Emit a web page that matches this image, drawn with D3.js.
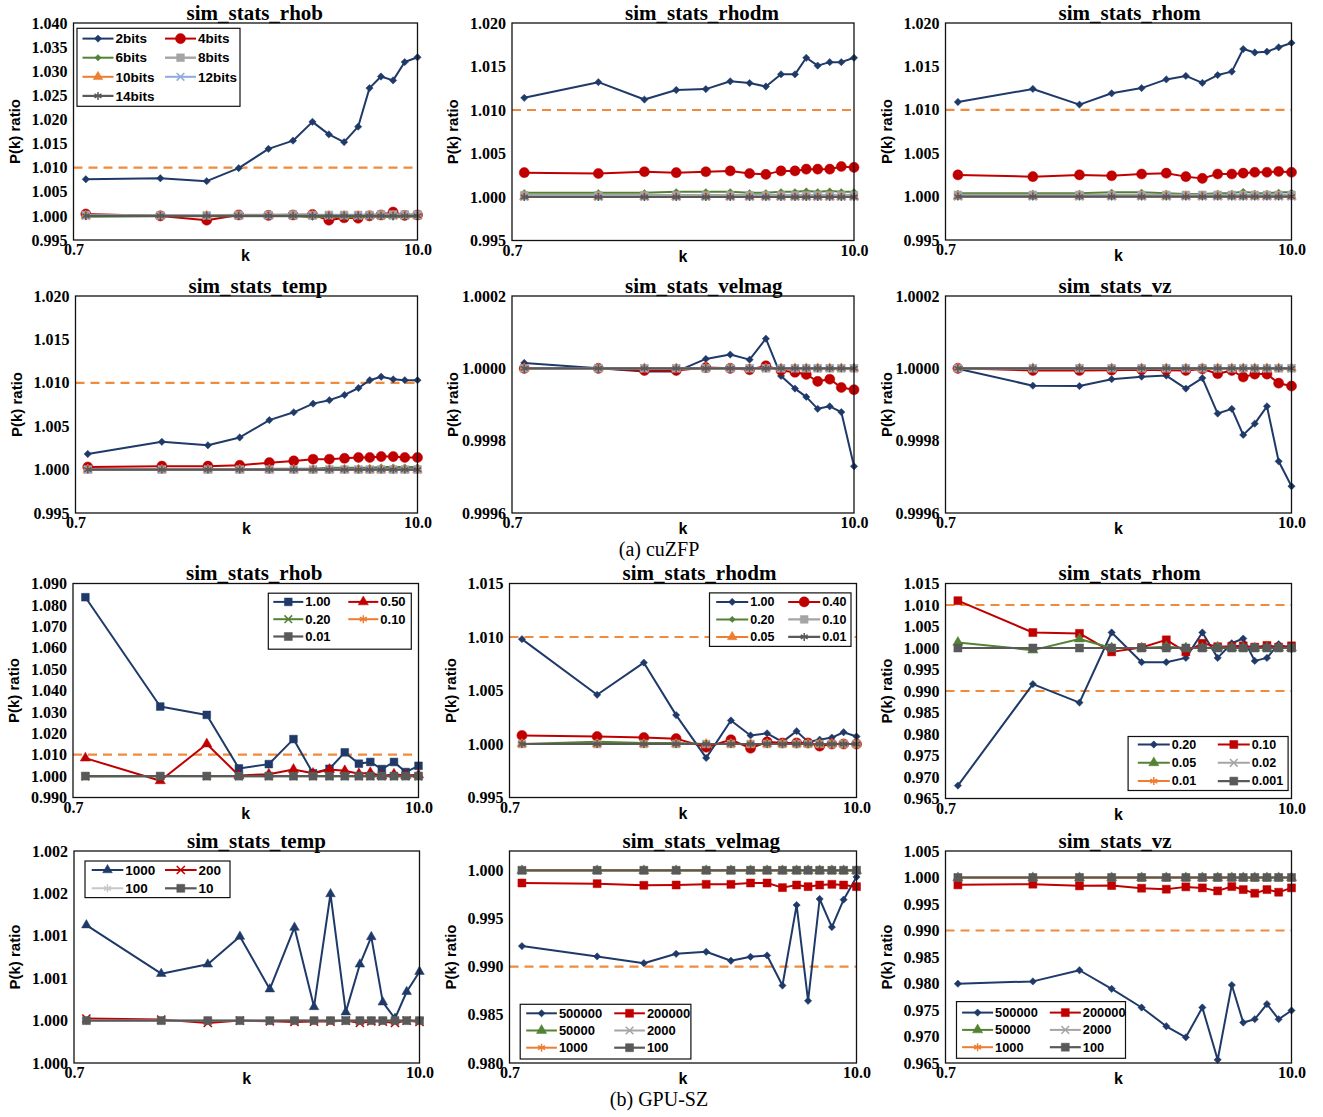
<!DOCTYPE html>
<html><head><meta charset="utf-8">
<script src="https://cdn.jsdelivr.net/npm/d3@7"></script>
<style>body{margin:0;background:#fff} svg{display:block}</style>
</head><body><svg id="c" width="1323" height="1117"></svg>
<script>
// ---------------- DATA ----------------
const kValues = [0.77,1.37,1.96,2.51,3.16,3.82,4.44,5.04,5.67,6.32,6.90,7.54,8.28,9.06,10.0];
const xTickValues = [0.7, 10.0];
const flat = [1,1,1,1,1,1,1,1,1,1,1,1,1,1,1];

const cuzfpNames = ["2bits","4bits","6bits","8bits","10bits","12bits","14bits"];

const zfpRhob2 = [1.0076,1.0078,1.0072,1.0099,1.0139,1.0156,1.0195,1.0169,1.0153,1.0185,1.0265,1.0289,1.0281,1.0319,1.0329];
const zfpRhob4 = [1.0004,1.0000,0.9991,1.0002,1.0001,1.0002,1.0003,0.9991,0.9996,0.9995,1.0000,1.0002,1.0008,1.0001,1.0002];
const zfpRhob6 = [0.9998,0.9999,0.9999,0.9999,0.9999,0.9999,0.9997,0.9998,0.9997,0.9997,0.9998,0.9998,0.9997,0.9998,0.9998];
const zfpRhob8 = [1.0002,1.0001,1.0001,1.0002,1.0002,1.0003,1.0002,1.0002,1.0002,1.0002,1.0002,1.0003,1.0003,1.0003,1.0003];

const zfpRhodm2 = [1.0114,1.0132,1.0112,1.0123,1.0124,1.0133,1.0131,1.0127,1.0141,1.0141,1.0160,1.0151,1.0155,1.0155,1.0160];
const zfpRhodm4 = [1.0028,1.0027,1.0029,1.0028,1.0029,1.0030,1.0027,1.0026,1.0030,1.0030,1.0032,1.0032,1.0032,1.0035,1.0034];
const zfpRhodm6 = [1.0005,1.0005,1.0005,1.0006,1.0006,1.0006,1.0005,1.0005,1.0006,1.0006,1.0007,1.0006,1.0007,1.0006,1.0006];
const zfpRhodm8 = [1.0002,1.0002,1.0002,1.0002,1.0002,1.0002,1.0002,1.0002,1.0002,1.0002,1.0002,1.0002,1.0002,1.0002,1.0002];

const zfpRhom2 = [1.0109,1.0124,1.0106,1.0119,1.0125,1.0135,1.0139,1.0131,1.0140,1.0144,1.0170,1.0166,1.0167,1.0172,1.0177];
const zfpRhom4 = [1.0025,1.0023,1.0025,1.0024,1.0026,1.0027,1.0023,1.0021,1.0026,1.0026,1.0027,1.0028,1.0028,1.0029,1.0028];
const zfpRhom6 = [1.0004,1.0004,1.0004,1.0005,1.0005,1.0004,1.0003,1.0003,1.0004,1.0004,1.0006,1.0004,1.0004,1.0005,1.0005];
const zfpRhom8 = [1.0002,1.0002,1.0002,1.0002,1.0002,1.0002,1.0002,1.0002,1.0002,1.0002,1.0002,1.0002,1.0002,1.0002,1.0002];

const zfpTemp2 = [1.0018,1.0032,1.0028,1.0037,1.0057,1.0066,1.0076,1.0080,1.0086,1.0094,1.0103,1.0107,1.0104,1.0103,1.0103];
const zfpTemp4 = [1.0003,1.0004,1.0004,1.0005,1.0008,1.0010,1.0012,1.0012,1.0013,1.0014,1.0014,1.0015,1.0015,1.0014,1.0014];
const zfpTemp6 = [1.0000,1.0000,1.0000,1.0000,1.0001,1.0001,1.0001,1.0002,1.0002,1.0002,1.0002,1.0003,1.0003,1.0003,1.0003];

const zfpVelmag2 = [1.000015,1.000000,0.999991,0.999991,1.000026,1.000038,1.000024,1.000082,0.999979,0.999944,0.999921,0.999888,0.999895,0.999879,0.999729];
const zfpVelmag4 = [1.000000,1.000000,0.999994,0.999994,1.000002,1.000000,0.999996,1.000007,0.999994,0.999989,0.999983,0.999964,0.999970,0.999947,0.999941];

const zfpVz2 = [0.999999,0.999952,0.999951,0.999970,0.999977,0.999980,0.999944,0.999973,0.999875,0.999888,0.999816,0.999847,0.999895,0.999743,0.999674];
const zfpVz4 = [1.000000,0.999994,0.999994,0.999995,0.999996,0.999995,0.999994,0.999998,0.999985,0.999994,0.999976,0.999984,0.999984,0.999959,0.999951];

const szRhobNames = ["1.00","0.50","0.20","0.10","0.01"];
const szRhob100 = [1.0836,1.0325,1.0286,1.0036,1.0056,1.0173,1.0013,1.0034,1.0111,1.0058,1.0066,1.0033,1.0066,1.0019,1.0048];
const szRhob050 = [1.0084,0.9978,1.0150,1.0003,1.0009,1.0031,1.0013,1.0031,1.0025,1.0011,1.0016,1.0000,1.0009,1.0003,1.0006];
const szRhob020 = [0.9998,0.9999,0.9999,0.9999,0.9999,0.9999,0.9999,0.9999,0.9999,0.9999,0.9999,0.9999,0.9999,0.9999,0.9999];

const szRhodmNames = ["1.00","0.40","0.20","0.10","0.05","0.01"];
const szRhodm100 = [1.0098,1.0046,1.0076,1.0027,0.9987,1.0022,1.0008,1.0010,1.0002,1.0012,1.0002,1.0004,1.0006,1.0011,1.0007];
const szRhodm040 = [1.0008,1.0007,1.0006,1.0005,0.9997,1.0004,0.9996,1.0002,1.0001,1.0001,1.0001,0.9998,1.0000,1.0000,1.0000];
const szRhodm020 = [1.0000,1.0002,1.0001,1.0001,1.0000,1.0000,1.0000,1.0000,1.0000,1.0000,1.0000,1.0000,1.0000,1.0000,1.0000];

const szRhomNames = ["0.20","0.10","0.05","0.02","0.01","0.001"];
const szRhom020 = [0.9680,0.9916,0.9873,1.0036,0.9967,0.9967,0.9977,1.0036,0.9977,1.0011,1.0022,0.9970,0.9977,1.0009,0.9997];
const szRhom010 = [1.0110,1.0036,1.0034,0.9991,1.0001,1.0019,0.9991,1.0011,1.0003,1.0004,1.0005,1.0002,1.0006,1.0002,1.0005];
const szRhom005 = [1.0013,0.9995,1.0021,1.0000,1.0000,1.0003,1.0000,1.0000,1.0002,1.0000,1.0000,1.0000,1.0000,1.0000,1.0000];

const szTempNames = ["1000","200","100","10"];
const szTemp1000 = [1.001126,1.000553,1.000664,1.000991,1.000371,1.001098,1.000162,1.001493,1.000100,1.000664,1.000987,1.000217,1.000024,1.000340,1.000577];
const szTemp200 = [1.000024,1.000012,0.999972,1.000000,0.999992,0.999984,0.999988,0.999988,1.000000,0.999972,0.999992,0.999988,0.999972,1.000000,0.999984];
const szTemp100 = [1.000000,1.000000,1.000000,1.000000,1.000000,1.000010,1.000000,1.000000,1.000000,1.000000,1.000000,1.000000,1.000000,1.000000,1.000000];

const szVelNames = ["500000","200000","50000","2000","1000","100"];
const szVelmag500k = [0.99213,0.99106,0.99036,0.99133,0.99154,0.99061,0.99102,0.99116,0.98804,0.99639,0.98645,0.99702,0.99411,0.99695,0.99930];
const szVelmag200k = [0.99868,0.99861,0.99844,0.99847,0.99854,0.99854,0.99868,0.99868,0.99820,0.99847,0.99830,0.99847,0.99854,0.99847,0.99830];
const szNear50k = [0.99995,0.99995,0.99995,0.99995,0.99995,0.99995,0.99995,0.99995,0.99995,0.99995,0.99995,0.99995,0.99995,0.99995,0.99995];
const szVz500k = [0.97996,0.98040,0.98250,0.97900,0.97547,0.97193,0.96985,0.97547,0.96561,0.97971,0.97263,0.97326,0.97611,0.97326,0.97491];
const szVz200k = [0.99861,0.99874,0.99842,0.99848,0.99798,0.99779,0.99823,0.99804,0.99747,0.99829,0.99772,0.99703,0.99772,0.99722,0.99804];

const ticks0995to1040 = [0.995,1.000,1.005,1.010,1.015,1.020,1.025,1.030,1.035,1.040];
const ticks0995to1020 = [0.995,1.000,1.005,1.010,1.015,1.020];
const ticksSmall = [0.9996,0.9998,1.0000,1.0002];
const ticks0990to1090 = [0.990,1.000,1.010,1.020,1.030,1.040,1.050,1.060,1.070,1.080,1.090];
const ticks0995to1015 = [0.995,1.000,1.005,1.010,1.015];
const ticks0965to1015 = [0.965,0.970,0.975,0.980,0.985,0.990,0.995,1.000,1.005,1.010,1.015];
const ticksTemp = [0.9995,1.0000,1.0005,1.0010,1.0015,1.0020];
const ticksTempLabels = ["1.000","1.000","1.001","1.001","1.002","1.002"];
const ticks0980to1000 = [0.980,0.985,0.990,0.995,1.000];
const ticks0965to1005 = [0.965,0.970,0.975,0.980,0.985,0.990,0.995,1.000,1.005];

const titles = ["sim_stats_rhob","sim_stats_rhodm","sim_stats_rhom","sim_stats_temp","sim_stats_velmag","sim_stats_vz"];

// ---------------- STYLE ----------------
const C = {navy:"#1f3a68", red:"#c00000", green:"#548235", gray:"#a5a5a5", orange:"#ed7d31",
           lblue:"#8faadc", dgray:"#595959", lgray:"#c8c8c8", dash:"#f08a3c"};
const symbolTypes = {
  diamond: d3.symbolDiamond2 || d3.symbolDiamond,
  circle: d3.symbolCircle, square: d3.symbolSquare, triangle: d3.symbolTriangle,
  x: d3.symbolTimes || d3.symbolX, star: d3.symbolAsterisk
};
const strokeSym = {x:true, star:true};
function S(name, values, color, sym, size, lw){ return {name, values, color, sym, size, lw: lw||2}; }

function zfpSeries(v2,v4,v6,v8,v10,v12,v14){
  return [
    S(cuzfpNames[0], v2, C.navy, "diamond", 34),
    S(cuzfpNames[1], v4, C.red, "circle", 80),
    S(cuzfpNames[2], v6, C.green, "diamond", 26),
    S(cuzfpNames[3], v8, C.gray, "square", 60, 2.4),
    S(cuzfpNames[4], v10, C.orange, "triangle", 40),
    S(cuzfpNames[5], v12, C.lblue, "x", 40),
    S(cuzfpNames[6], v14, C.dgray, "star", 45, 2.2)
  ];
}

const panels = [
  {title:titles[0], rect:[73.5,23,417.5,240], yDomain:[0.995,1.040], yTicks:ticks0995to1040, fmt:".3f", refs:[1.010],
   series: zfpSeries(zfpRhob2,zfpRhob4,zfpRhob6,zfpRhob8,flat,flat,flat),
   legend:{x:3.5,y:5.3,w:163,h:78,row0:10.3,rowH:19.1,col2:88,lx:5.5,len:31,font:13.5}},
  {title:titles[1], rect:[512,23,854,240.5], yDomain:[0.995,1.020], yTicks:ticks0995to1020, fmt:".3f", refs:[1.010],
   series: zfpSeries(zfpRhodm2,zfpRhodm4,zfpRhodm6,zfpRhodm8,flat,flat,flat)},
  {title:titles[2], rect:[945.5,23,1291.5,240], yDomain:[0.995,1.020], yTicks:ticks0995to1020, fmt:".3f", refs:[1.010],
   series: zfpSeries(zfpRhom2,zfpRhom4,zfpRhom6,zfpRhom8,flat,flat,flat)},
  {title:titles[3], rect:[75.5,296,417.5,513], yDomain:[0.995,1.020], yTicks:ticks0995to1020, fmt:".3f", refs:[1.010],
   series: zfpSeries(zfpTemp2,zfpTemp4,zfpTemp6,flat,flat,flat,flat)},
  {title:titles[4], rect:[512,296,854,513], yDomain:[0.9996,1.0002], yTicks:ticksSmall, fmt:".4f", refs:[],
   series: zfpSeries(zfpVelmag2,zfpVelmag4,flat,flat,flat,flat,flat)},
  {title:titles[5], rect:[945.5,296,1291.5,513], yDomain:[0.9996,1.0002], yTicks:ticksSmall, fmt:".4f", refs:[],
   series: zfpSeries(zfpVz2,zfpVz4,flat,flat,flat,flat,flat)},

  {title:titles[0], rect:[73,583.5,418.5,797.5], yDomain:[0.990,1.090], yTicks:ticks0990to1090, fmt:".3f", refs:[1.010],
   series:[S(szRhobNames[0],szRhob100,C.navy,"square",60), S(szRhobNames[1],szRhob050,C.red,"triangle",45),
           S(szRhobNames[2],szRhob020,C.green,"x",40), S(szRhobNames[3],flat,C.orange,"star",45),
           S(szRhobNames[4],flat,C.dgray,"square",64,2.2)],
   legend:{x:195.3,y:9.7,w:143,h:56,row0:8.7,rowH:17.3,col2:80,lx:5,len:30,font:13}},
  {title:titles[1], rect:[509.5,583.5,856.5,797.5], yDomain:[0.995,1.015], yTicks:ticks0995to1015, fmt:".3f", refs:[1.010],
   series:[S(szRhodmNames[0],szRhodm100,C.navy,"diamond",34), S(szRhodmNames[1],szRhodm040,C.red,"circle",80),
           S(szRhodmNames[2],szRhodm020,C.green,"diamond",26), S(szRhodmNames[3],flat,C.gray,"square",60,2.2),
           S(szRhodmNames[4],flat,C.orange,"triangle",40), S(szRhodmNames[5],flat,C.dgray,"star",45,2.2)],
   legend:{x:200,y:9.4,w:141.5,h:53.5,row0:9,rowH:17.5,col2:78.7,lx:6.7,len:32,font:12.5}},
  {title:titles[2], rect:[945.5,583.5,1291.5,798.5], yDomain:[0.965,1.015], yTicks:ticks0965to1015, fmt:".3f", refs:[1.010,0.990],
   series:[S(szRhomNames[0],szRhom020,C.navy,"diamond",34), S(szRhomNames[1],szRhom010,C.red,"square",64),
           S(szRhomNames[2],szRhom005,C.green,"triangle",45), S(szRhomNames[3],flat,C.gray,"x",40),
           S(szRhomNames[4],flat,C.orange,"star",45), S(szRhomNames[5],flat,C.dgray,"square",64,2.2)],
   legend:{x:182.6,y:153,w:160,h:54,row0:8,rowH:18.3,col2:89.7,lx:9.7,len:32,font:12.5}},
  {title:titles[3], rect:[74,851,419.5,1063], yDomain:[0.9995,1.0020], yTicks:ticksTemp, labels:ticksTempLabels, refs:[],
   series:[S(szTempNames[0],szTemp1000,C.navy,"triangle",40), S(szTempNames[1],szTemp200,C.red,"x",45),
           S(szTempNames[2],szTemp100,C.lgray,"star",45), S(szTempNames[3],flat,C.dgray,"square",64,2.2)],
   legend:{x:11,y:10,w:145,h:36.6,row0:9,rowH:18.3,col2:80,lx:6.7,len:31.6,font:13.5}},
  {title:titles[4], rect:[509.5,851,856.5,1063], yDomain:[0.980,1.002], yTicks:ticks0980to1000, fmt:".3f", refs:[0.990],
   series:[S(szVelNames[0],szVelmag500k,C.navy,"diamond",34), S(szVelNames[1],szVelmag200k,C.red,"square",64),
           S(szVelNames[2],szNear50k,C.green,"triangle",45), S(szVelNames[3],flat,C.gray,"x",40),
           S(szVelNames[4],flat,C.orange,"star",45), S(szVelNames[5],flat,C.dgray,"square",64,2.2)],
   legend:{x:10.7,y:153.3,w:170.7,h:54.7,row0:9,rowH:17.2,col2:94,lx:6,len:30.7,font:13}},
  {title:titles[5], rect:[945.5,851,1291.5,1063], yDomain:[0.965,1.005], yTicks:ticks0965to1005, fmt:".3f", refs:[0.990],
   series:[S(szVelNames[0],szVz500k,C.navy,"diamond",34), S(szVelNames[1],szVz200k,C.red,"square",64),
           S(szVelNames[2],szNear50k,C.green,"triangle",45), S(szVelNames[3],flat,C.gray,"x",40),
           S(szVelNames[4],flat,C.orange,"star",45), S(szVelNames[5],flat,C.dgray,"square",64,2.2)],
   legend:{x:11,y:150.6,w:169,h:56.7,row0:11,rowH:17.3,col2:93.3,lx:5.6,len:31,font:12.8}}
];

const captions = [{text:"(a) cuZFP", x:659, y:556}, {text:"(b) GPU-SZ", x:659, y:1106}];

// ---------------- DRAW ----------------
const svg = d3.select("#c");
svg.append("rect").attr("width",1323).attr("height",1117).attr("fill","#fff");
const SERIF = "'Liberation Serif','Times New Roman',serif";
const SANS = "'Liberation Sans',Arial,sans-serif";

function drawSymbol(g, s, cx, cy){
  const path = d3.symbol().type(symbolTypes[s.sym]).size(s.size)();
  const el = g.append("path").attr("d", path).attr("transform", `translate(${cx},${cy})`);
  if (strokeSym[s.sym]) el.attr("fill","none").attr("stroke", s.color).attr("stroke-width",1.5);
  else el.attr("fill", s.color).attr("stroke", s.color).attr("stroke-width",0.5);
}

panels.forEach(p => {
  const [L,T,R,B] = p.rect;
  const g = svg.append("g");
  const x = d3.scaleLog().domain([0.7,10]).range([L,R]);
  const y = d3.scaleLinear().domain(p.yDomain).range([B,T]);

  // y axis
  const ya = d3.axisLeft(y).tickValues(p.yTicks).tickSize(0).tickPadding(6)
    .tickFormat((d,i) => p.labels ? p.labels[i] : d3.format(p.fmt)(d));
  const yg = g.append("g").attr("transform",`translate(${L},0)`).call(ya);
  yg.select(".domain").remove();
  yg.selectAll("text").attr("font-family",SERIF).attr("font-weight","bold").attr("font-size",16).attr("fill","#000");

  // x axis
  const xa = d3.axisBottom(x).tickValues(xTickValues).tickSize(0).tickFormat(d3.format(".1f"));
  const xg = g.append("g").attr("transform",`translate(0,${B})`).call(xa);
  xg.select(".domain").remove();
  xg.selectAll("text").attr("y",15).attr("dy",0).attr("font-family",SERIF).attr("font-weight","bold").attr("font-size",16).attr("fill","#000");

  // axis titles
  g.append("text").attr("x",(L+R)/2).attr("y",B+21).attr("text-anchor","middle")
    .attr("font-family",SANS).attr("font-weight","bold").attr("font-size",16).text("k");
  g.append("text").attr("transform",`translate(${L-59},${(T+B)/2}) rotate(-90)`).attr("text-anchor","middle")
    .attr("dy","0.35em").attr("font-family",SANS).attr("font-weight","bold").attr("font-size",15).text("P(k) ratio");
  // chart title
  g.append("text").attr("x",L+113).attr("y",T-3.5).attr("font-family",SERIF).attr("font-weight","bold")
    .attr("font-size",21).text(p.title);

  // reference dashed lines
  p.refs.forEach(r => {
    g.append("line").attr("x1",L).attr("x2",R).attr("y1",y(r)).attr("y2",y(r))
      .attr("stroke",C.dash).attr("stroke-width",2.2).attr("stroke-dasharray","9,6");
  });

  // series
  const line = d3.line().x(d => x(d.k)).y(d => y(d.v));
  p.series.forEach(s => {
    const pts = s.values.map((v,i) => ({k:kValues[i], v}));
    g.append("path").datum(pts).attr("d", line).attr("fill","none").attr("stroke", s.color)
      .attr("stroke-width", s.lw).attr("stroke-linejoin","round");
    const mg = g.append("g");
    pts.forEach(d => drawSymbol(mg, s, x(d.k), y(d.v)));
  });

  // border
  g.append("rect").attr("x",L).attr("y",T).attr("width",R-L).attr("height",B-T)
    .attr("fill","none").attr("stroke","#111").attr("stroke-width",1.3);

  // legend
  if (p.legend) {
    const lg = p.legend;
    const bx = L + lg.x, by = T + lg.y;
    const leg = g.append("g");
    leg.append("rect").attr("x",bx).attr("y",by).attr("width",lg.w).attr("height",lg.h)
      .attr("fill","#fff").attr("stroke","#111").attr("stroke-width",1.2);
    p.series.forEach((s,i) => {
      const row = Math.floor(i/2), col = i%2;
      const lx0 = col ? bx + lg.col2 : bx + lg.lx;
      const ly = by + lg.row0 + row*lg.rowH;
      leg.append("line").attr("x1",lx0).attr("x2",lx0+lg.len).attr("y1",ly).attr("y2",ly)
        .attr("stroke",s.color).attr("stroke-width",s.lw);
      drawSymbol(leg, s, lx0 + lg.len/2, ly);
      leg.append("text").attr("x",lx0+lg.len+2).attr("y",ly).attr("dy","0.35em")
        .attr("font-family",SANS).attr("font-weight","bold").attr("font-size",lg.font).text(s.name);
    });
  }
});

captions.forEach(c => {
  svg.append("text").attr("x",c.x).attr("y",c.y).attr("text-anchor","middle")
    .attr("font-family",SERIF).attr("font-size",20).text(c.text);
});
</script>
</body></html>
